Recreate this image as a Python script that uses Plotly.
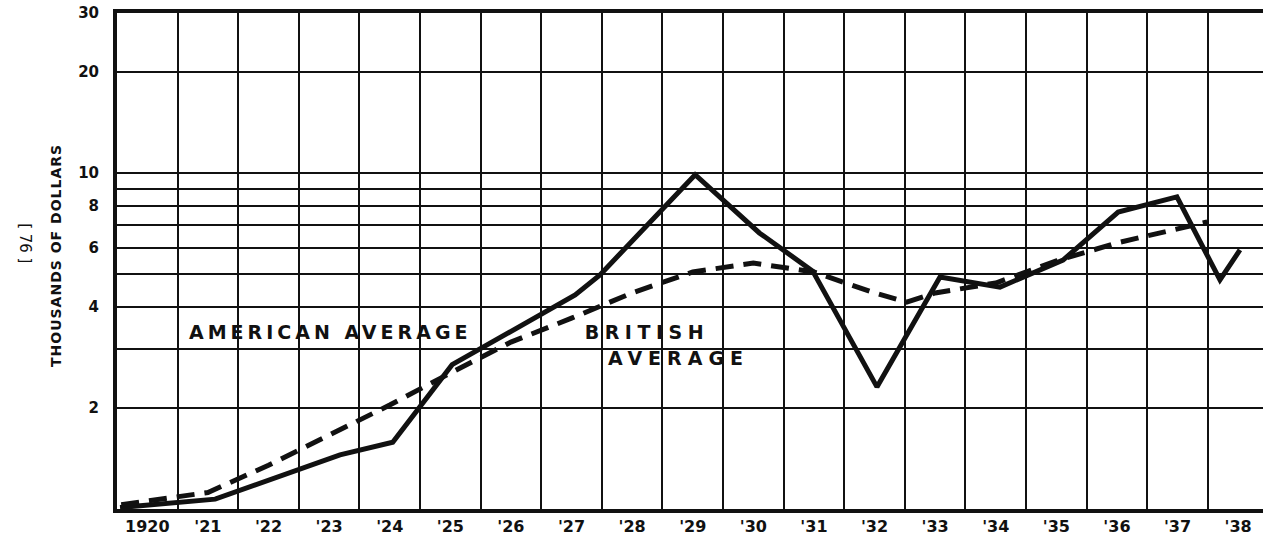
import math
import plotly.graph_objects as go

# ---- data ----
year_ticks = list(range(1920, 1939))
year_labels = ["1920"] + ["'" + str(y)[2:] for y in range(1921, 1939)]

american_x = [1919.55, 1921.12, 1923.18, 1924.05, 1925.03, 1927.06, 1927.47, 1929.04,
              1930.10, 1930.98, 1932.04, 1933.08, 1934.07, 1935.11, 1936.02, 1936.99,
              1937.70, 1938.03]
american_y = [1.01, 1.07, 1.45, 1.58, 2.69, 4.34, 4.98, 9.9,
              6.64, 5.11, 2.31, 4.91, 4.58, 5.51, 7.66, 8.50,
              4.81, 5.91]

british_x = [1919.57, 1921, 1922, 1923, 1924, 1925, 1926, 1927, 1928, 1929, 1930,
             1931, 1932, 1932.53, 1933, 1934, 1935, 1936, 1937, 1937.49]
british_y = [1.03, 1.12, 1.35, 1.66, 2.04, 2.54, 3.14, 3.70, 4.40, 5.08, 5.40,
             5.08, 4.40, 4.13, 4.40, 4.71, 5.48, 6.20, 6.83, 7.16]

y_tick_vals = [2, 4, 6, 8, 10, 20, 30]
y_minor_vals = [3, 5, 7, 9]
x_grid_vals = [y + 0.5 for y in range(1920, 1938)]

INK = "#111111"
FONT = "DejaVu Sans"

fig = go.Figure()
fig.add_trace(go.Scatter(x=american_x, y=american_y, mode="lines",
                         line=dict(color=INK, width=5), name="American average",
                         showlegend=False, hoverinfo="skip"))
fig.add_trace(go.Scatter(x=british_x, y=british_y, mode="lines",
                         line=dict(color=INK, width=5, dash="18px,10px"),
                         name="British average", showlegend=False, hoverinfo="skip"))

label_font = dict(family=FONT, size=19, weight="bold", color=INK)

fig.update_layout(
    width=1263, height=535,
    margin=dict(l=117, r=0, t=13, b=26),
    paper_bgcolor="white", plot_bgcolor="white",
    font=dict(family=FONT, color=INK),
    xaxis=dict(
        range=[1919.5, 1938.41],
        tickvals=year_ticks, ticktext=year_labels,
        tickfont=dict(family=FONT, size=16, weight="bold", color=INK),
        showgrid=False, zeroline=False,
        showline=True, linewidth=4, linecolor=INK, mirror=True,
        ticks="", ticklabelstandoff=0,
        minor=dict(tickvals=x_grid_vals, showgrid=True, gridcolor=INK, gridwidth=2, ticks=""),
    ),
    yaxis=dict(
        type="log", range=[0, math.log10(30)],
        tickvals=y_tick_vals, ticktext=[str(v) for v in y_tick_vals],
        tickfont=dict(family=FONT, size=15, weight="bold", color=INK),
        showgrid=True, gridcolor=INK, gridwidth=2, zeroline=False,
        showline=True, linewidth=4, linecolor=INK, mirror=False,
        ticks="", ticklabelstandoff=11,
        minor=dict(tickvals=y_minor_vals, showgrid=True, gridcolor=INK, gridwidth=2, ticks=""),
    ),
    annotations=[
        dict(text="AMERICAN AVERAGE", x=1923.01, y=math.log10(3.37), xref="x", yref="y",
             xanchor="center", yanchor="middle", showarrow=False, font=label_font),
        dict(text="BRITISH", x=1928.25, y=math.log10(3.37), xref="x", yref="y",
             xanchor="center", yanchor="middle", showarrow=False, font=label_font),
        dict(text="AVERAGE", x=1928.76, y=math.log10(2.82), xref="x", yref="y",
             xanchor="center", yanchor="middle", showarrow=False, font=label_font),
        dict(text="THOUSANDS OF DOLLARS", x=0, y=0.51, xref="paper", yref="paper",
             xshift=-61, xanchor="center", yanchor="middle", textangle=-90,
             showarrow=False, font=dict(family=FONT, size=14, weight="bold", color=INK)),
        dict(text="[ 76 ]", x=0, y=0.536, xref="paper", yref="paper",
             xshift=-92, xanchor="center", yanchor="middle", textangle=90,
             showarrow=False, font=dict(family=FONT, size=15, color=INK)),
    ],
)

post = """
document.body.style.margin = '0';
document.body.style.overflow = 'hidden';
var s = document.createElement('style');
s.textContent =
  '.annotation[data-index="0"] .annotation-text{letter-spacing:4px}' +
  '.annotation[data-index="1"] .annotation-text{letter-spacing:5.5px}' +
  '.annotation[data-index="2"] .annotation-text{letter-spacing:6px}' +
  '.annotation[data-index="3"] .annotation-text{letter-spacing:1px}';
document.head.appendChild(s);
"""

fig.write_html("out.html", post_script=post, config={"displayModeBar": False})
